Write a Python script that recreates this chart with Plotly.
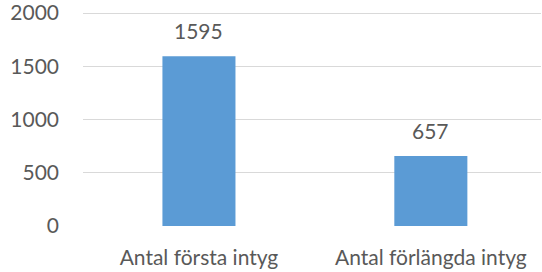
import plotly.graph_objects as go

categories = ["Antal första intyg", "Antal förlängda intyg"]
values = [1595, 657]
y_ticks = [0, 500, 1000, 1500, 2000]

FONT = "Lato, 'Open Sans', sans-serif"
GRAY = "#595959"
SIZE = 21

fig = go.Figure()
fig.add_trace(go.Bar(
    x=categories, y=values, width=0.315,
    marker=dict(color="#5B9BD5", line=dict(width=0)),
    hoverinfo="skip",
))
for c, v in zip(categories, values):
    fig.add_annotation(x=c, y=v, text=str(v), showarrow=False,
                       yanchor="bottom", yshift=11,
                       font=dict(family=FONT, size=SIZE, color=GRAY))

fig.update_layout(
    width=542, height=272, autosize=False,
    margin=dict(l=83, r=1, t=11, b=46, autoexpand=False),
    plot_bgcolor="white", paper_bgcolor="white",
    showlegend=False,
    font=dict(family=FONT, size=SIZE, color=GRAY),
    xaxis=dict(range=[-0.5, 1.475], showgrid=False, zeroline=False,
               showline=False, ticks="", ticklabelstandoff=17, automargin=False,
               tickfont=dict(family=FONT, size=SIZE, color=GRAY)),
    yaxis=dict(range=[0, 2020], tickvals=y_ticks, showgrid=True,
               gridcolor="#d9d9d9", gridwidth=1, zeroline=False,
               showline=False, ticks="", ticklabelstandoff=23, automargin=False,
               ticklabeloverflow="allow",
               tickfont=dict(family=FONT, size=SIZE, color=GRAY)),
)
fig.write_html(
    "out.html",
    config={"displayModeBar": False, "staticPlot": True},
    post_script="document.body.style.margin='0';document.body.style.overflow='hidden';",
)
